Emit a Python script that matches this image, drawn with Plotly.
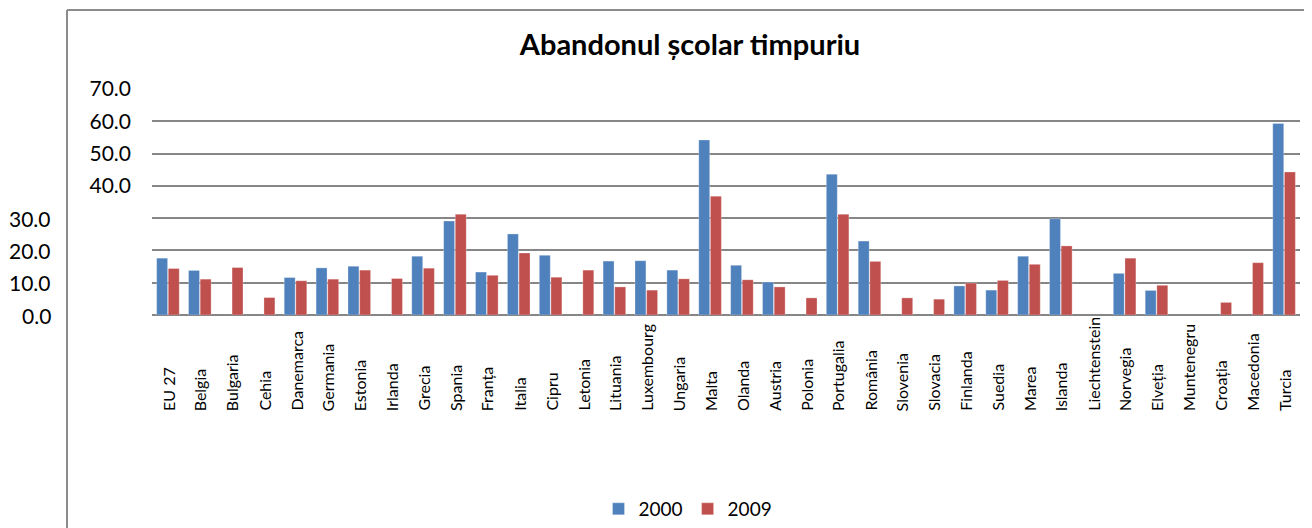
import plotly.graph_objects as go

categories = ["EU 27", "Belgia", "Bulgaria", "Cehia", "Danemarca", "Germania", "Estonia",
              "Irlanda", "Grecia", "Spania", "Franța", "Italia", "Cipru", "Letonia",
              "Lituania", "Luxembourg", "Ungaria", "Malta", "Olanda", "Austria", "Polonia",
              "Portugalia", "România", "Slovenia", "Slovacia", "Finlanda", "Suedia", "Marea",
              "Islanda", "Liechtenstein", "Norvegia", "Elveția", "Muntenegru", "Croația",
              "Macedonia", "Turcia"]

values_2000 = [17.6, 13.8, None, None, 11.6, 14.6, 15.1, None, 18.2, 29.1, 13.3, 25.1,
               18.5, None, 16.7, 16.8, 13.9, 54.2, 15.4, 10.2, None, 43.6, 22.9, None,
               None, 9.0, 7.7, 18.2, 29.8, None, 12.9, 7.6, None, None, None, 59.3]

values_2009 = [14.4, 11.1, 14.7, 5.4, 10.6, 11.1, 13.9, 11.3, 14.5, 31.2, 12.3, 19.2,
               11.7, 13.9, 8.7, 7.7, 11.2, 36.8, 10.9, 8.7, 5.3, 31.2, 16.6, 5.3,
               4.9, 9.9, 10.7, 15.7, 21.4, None, 17.6, 9.2, None, 3.9, 16.2, 44.3]

series_names = ["2000", "2009"]
colors = ["#4F81BD", "#C0504D"]

y_ticks = [0, 10, 20, 30, 40, 50, 60, 70]
y_tick_labels = ["0.0", "10.0", "20.0", "30.0", "40.0", "50.0", "60.0", "70.0"]
shifted_ticks = [0, 10, 20, 30]

title_text = "Abandonul școlar timpuriu"

FONT = "Lato"
OFF = 8  # page body margin offset
W, H = 1312 - OFF, 528 - OFF
PL, PT, PR, PB = 152, 89, 1300, 315  # plot area in page pixels
PW, PH = PR - PL, PB - PT

fig = go.Figure()
for name, vals, col in zip(series_names, [values_2000, values_2009], colors):
    fig.add_trace(go.Bar(
        x=categories, y=vals, name=name,
        marker=dict(color=col, line=dict(color="rgba(255,255,255,0.35)", width=0.8)),
    ))

ticktext = ["" if v in shifted_ticks else t for v, t in zip(y_ticks, y_tick_labels)]

fig.update_layout(
    width=W, height=H,
    margin=dict(l=PL - OFF, r=W - (PR - OFF), t=PT - OFF, b=H - (PB - OFF), autoexpand=False),
    paper_bgcolor="white", plot_bgcolor="white",
    barmode="group", bargap=0.27, bargroupgap=0.06,
    font=dict(family=FONT, color="#000000"),
    title=dict(text="<b>" + title_text + "</b>", x=(690 - OFF) / W, xanchor="center",
               xref="container",
               y=1 - (45 - OFF) / H, yanchor="middle", yref="container",
               font=dict(family=FONT, size=29, color="#000000")),
    showlegend=True,
    legend=dict(orientation="h", x=(688 - PL) / PW, xanchor="center",
                y=(PB - 509) / PH, yanchor="middle",
                font=dict(family=FONT, size=19), itemwidth=30,
                traceorder="normal"),
    xaxis=dict(showticklabels=False, showgrid=False, showline=False, zeroline=False,
               ticks="", automargin=False),
    yaxis=dict(range=[0, 70], tickvals=y_ticks, ticktext=ticktext,
               showgrid=True, gridcolor="#868686", gridwidth=2,
               zeroline=True, zerolinecolor="#868686", zerolinewidth=2,
               showline=False, ticks="", ticklabelstandoff=20, automargin=False,
               tickfont=dict(family=FONT, size=21, color="#000000")),
)

# shifted lower y tick labels (as in the reference)
for v, t in zip(y_ticks, y_tick_labels):
    if v in shifted_ticks:
        fig.add_annotation(text=t, x=(53 - PL) / PW, xref="paper", xanchor="right",
                           y=v, yref="y", yanchor="middle", showarrow=False,
                           font=dict(family=FONT, size=21, color="#000000"))

# category labels, rotated, bottom-aligned
for c in categories:
    fig.add_annotation(text=c, x=c, xref="x", xanchor="center",
                       y=(PB - 413) / PH, yref="paper", yanchor="bottom",
                       textangle=-90, showarrow=False,
                       font=dict(family=FONT, size=16, color="#000000"))

# chart frame
fig.add_shape(type="line", xref="paper", yref="paper",
              x0=(67 - PL) / PW, x1=(1330 - PL) / PW,
              y0=(PB - 10) / PH, y1=(PB - 10) / PH,
              line=dict(color="#8C8C8C", width=2))
fig.add_shape(type="line", xref="paper", yref="paper",
              x0=(67 - PL) / PW, x1=(67 - PL) / PW,
              y0=(PB - 10) / PH, y1=(PB - 540) / PH,
              line=dict(color="#8C8C8C", width=2))

fig.write_html("out.html")
